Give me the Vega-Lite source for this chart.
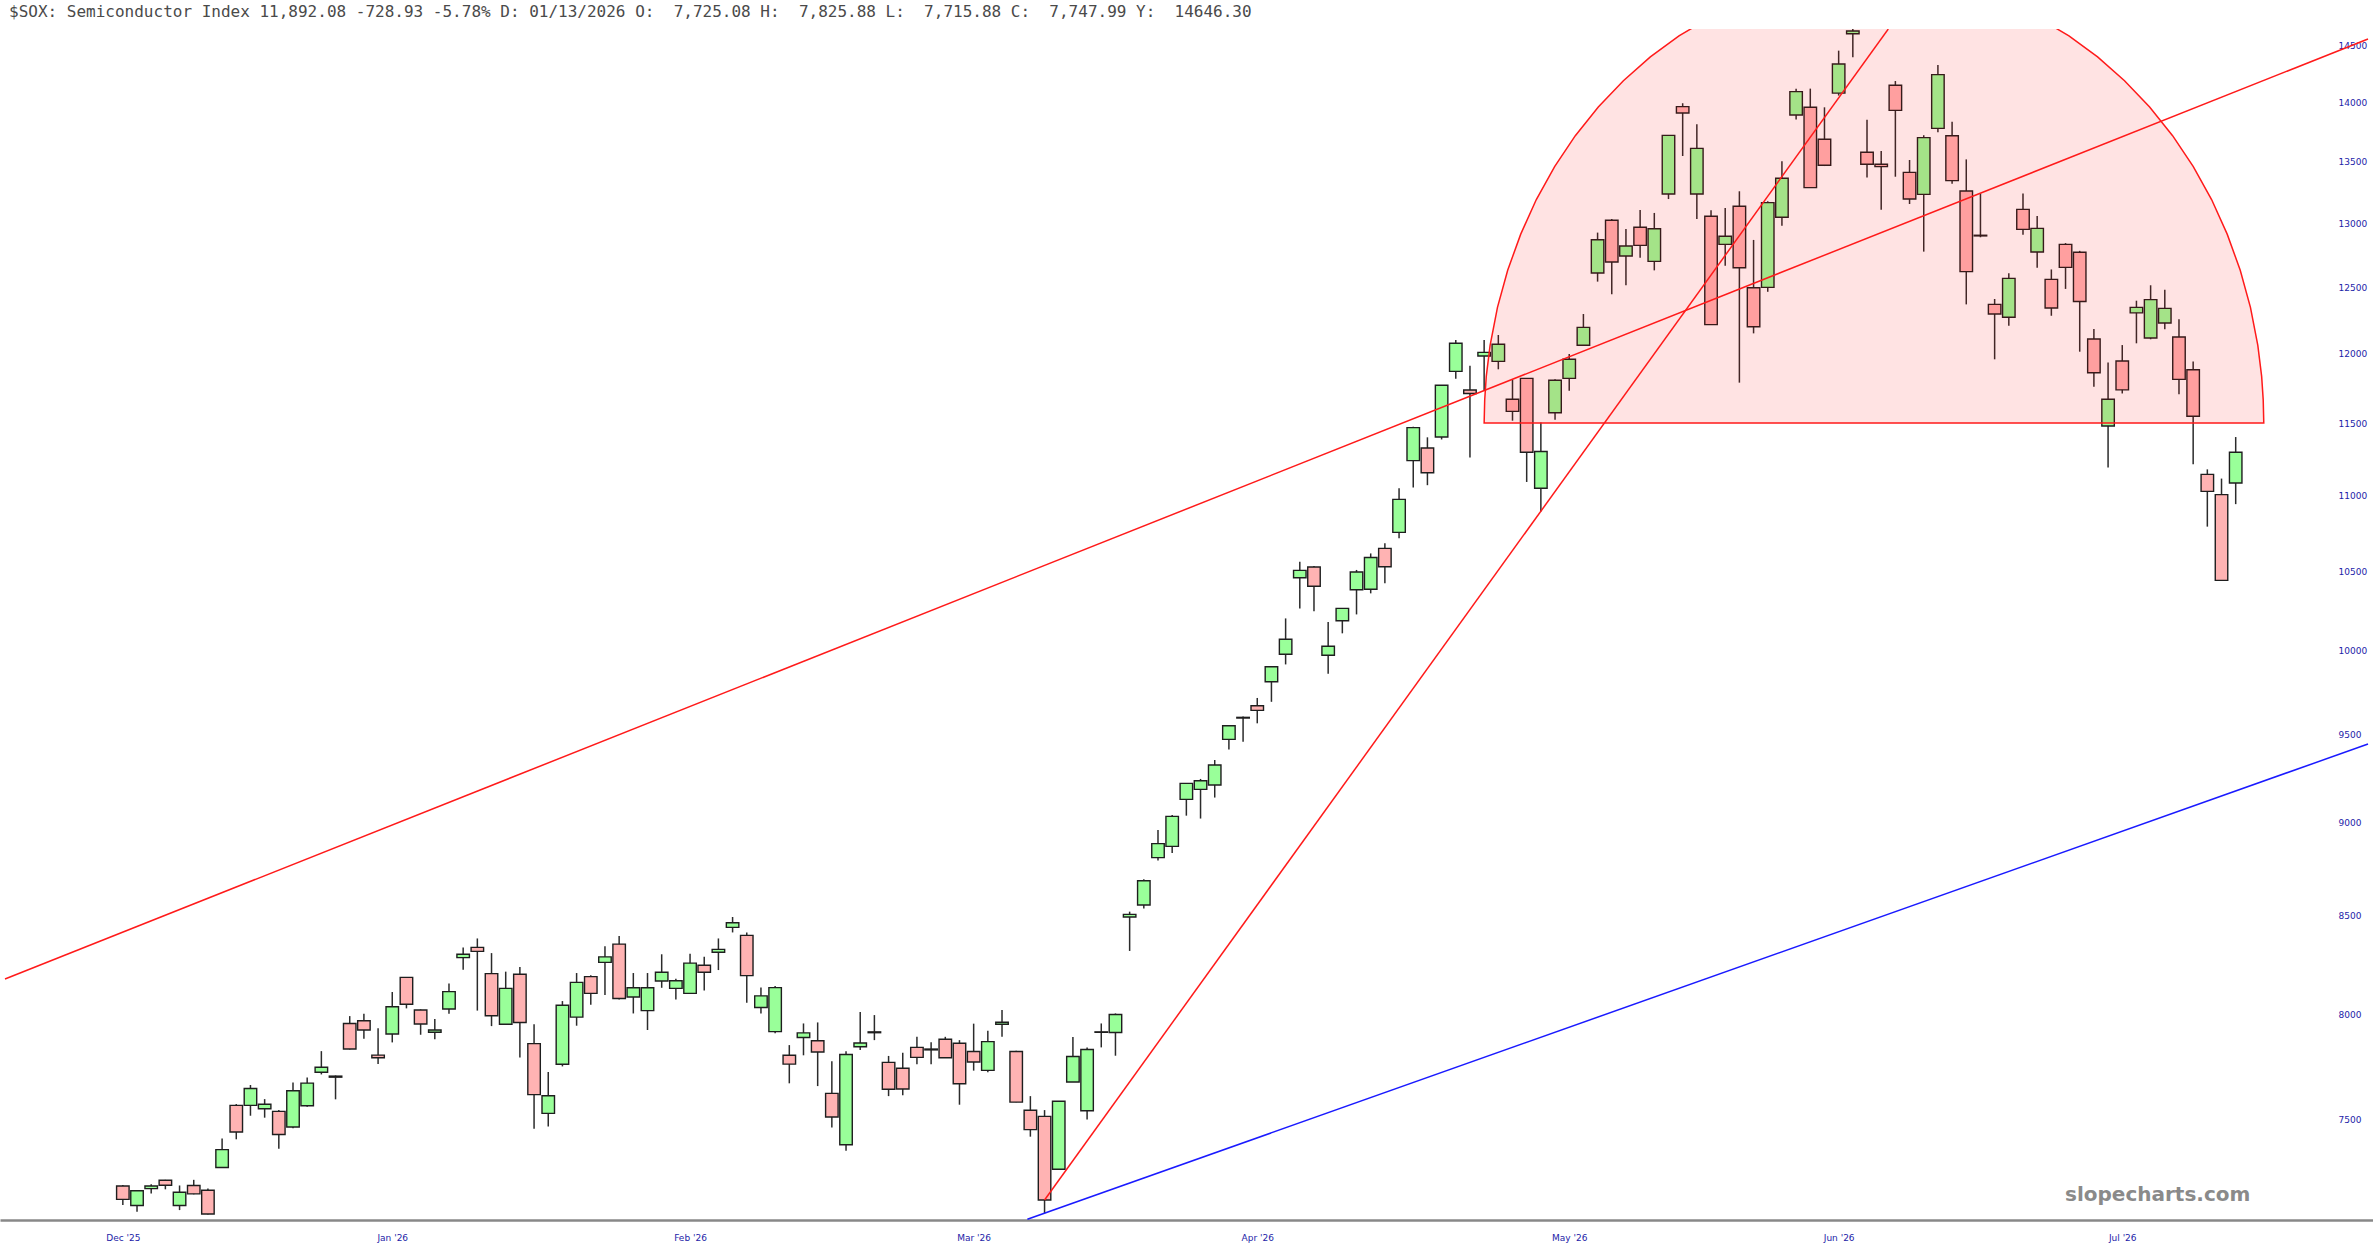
{
  "$schema": "https://vega.github.io/schema/vega-lite/v6.json",
  "width": 2373,
  "height": 1191,
  "autosize": {"type": "none"},
  "padding": {"top": 29, "left": 0, "right": 0, "bottom": 40},
  "background": "white",
  "config": {"view": {"stroke": null}},
  "title": {
    "text": "$SOX: Semiconductor Index 11,892.08 -728.93 -5.78% D: 01/13/2026 O:\u00a0 7,725.08 H:\u00a0 7,825.88 L:\u00a0 7,715.88 C:\u00a0 7,747.99 Y:\u00a0 14646.30",
    "anchor": "start",
    "frame": "group",
    "orient": "top",
    "offset": 12,
    "dx": 9,
    "dy": 16,
    "baseline": "alphabetic",
    "font": "DejaVu Sans Mono",
    "fontSize": 16,
    "fontWeight": "normal",
    "color": "#4a4a4a"
  },
  "datasets": {
    "candles": [
      {"i":1,"o":7201,"h":7205,"l":7117,"c":7142},
      {"i":2,"o":7115,"h":7182,"l":7088,"c":7180},
      {"i":3,"o":7189,"h":7208,"l":7168,"c":7201},
      {"i":4,"o":7226,"h":7228,"l":7186,"c":7204},
      {"i":5,"o":7115,"h":7203,"l":7095,"c":7173},
      {"i":6,"o":7203,"h":7228,"l":7164,"c":7166},
      {"i":7,"o":7182,"h":7190,"l":7076,"c":7078},
      {"i":8,"o":7283,"h":7414,"l":7281,"c":7363},
      {"i":9,"o":7566,"h":7572,"l":7410,"c":7443},
      {"i":10,"o":7566,"h":7661,"l":7518,"c":7645},
      {"i":11,"o":7550,"h":7595,"l":7509,"c":7571},
      {"i":12,"o":7538,"h":7544,"l":7367,"c":7432},
      {"i":13,"o":7466,"h":7673,"l":7460,"c":7634},
      {"i":14,"o":7564,"h":7697,"l":7560,"c":7670},
      {"i":15,"o":7721,"h":7822,"l":7711,"c":7745},
      {"i":16,"o":7703,"h":7706,"l":7594,"c":7698},
      {"i":17,"o":7956,"h":7992,"l":7830,"c":7832},
      {"i":18,"o":7969,"h":8004,"l":7882,"c":7924},
      {"i":19,"o":7803,"h":7932,"l":7760,"c":7790},
      {"i":20,"o":7905,"h":8111,"l":7864,"c":8038},
      {"i":21,"o":8184,"h":8186,"l":8030,"c":8050},
      {"i":22,"o":8022,"h":8025,"l":7901,"c":7953},
      {"i":23,"o":7913,"h":7978,"l":7879,"c":7924},
      {"i":24,"o":8027,"h":8154,"l":8004,"c":8113},
      {"i":25,"o":8284,"h":8336,"l":8223,"c":8301},
      {"i":26,"o":8336,"h":8382,"l":8019,"c":8316},
      {"i":27,"o":8203,"h":8307,"l":7943,"c":7994},
      {"i":28,"o":7952,"h":8213,"l":7952,"c":8129},
      {"i":29,"o":8200,"h":8236,"l":7792,"c":7961},
      {"i":30,"o":7858,"h":7952,"l":7458,"c":7616},
      {"i":31,"o":7529,"h":7722,"l":7469,"c":7611},
      {"i":32,"o":7759,"h":8066,"l":7749,"c":8045},
      {"i":33,"o":7987,"h":8206,"l":7945,"c":8159},
      {"i":34,"o":8188,"h":8195,"l":8048,"c":8104},
      {"i":35,"o":8260,"h":8342,"l":8096,"c":8288},
      {"i":36,"o":8353,"h":8394,"l":8074,"c":8079},
      {"i":37,"o":8086,"h":8206,"l":8005,"c":8132},
      {"i":38,"o":8019,"h":8206,"l":7924,"c":8132},
      {"i":39,"o":8166,"h":8301,"l":8132,"c":8210},
      {"i":40,"o":8129,"h":8177,"l":8074,"c":8167},
      {"i":41,"o":8104,"h":8304,"l":8101,"c":8256},
      {"i":42,"o":8245,"h":8288,"l":8119,"c":8210},
      {"i":43,"o":8311,"h":8382,"l":8221,"c":8326},
      {"i":44,"o":8439,"h":8493,"l":8413,"c":8463},
      {"i":45,"o":8398,"h":8413,"l":8058,"c":8193},
      {"i":46,"o":8034,"h":8133,"l":8005,"c":8092},
      {"i":47,"o":7916,"h":8141,"l":7908,"c":8133},
      {"i":48,"o":7802,"h":7851,"l":7669,"c":7760},
      {"i":49,"o":7888,"h":7956,"l":7802,"c":7910},
      {"i":50,"o":7872,"h":7961,"l":7656,"c":7818},
      {"i":51,"o":7622,"h":7773,"l":7464,"c":7512},
      {"i":52,"o":7385,"h":7822,"l":7358,"c":7806},
      {"i":53,"o":7843,"h":8012,"l":7827,"c":7861},
      {"i":54,"o":7915,"h":7997,"l":7875,"c":7911},
      {"i":55,"o":7768,"h":7799,"l":7609,"c":7641},
      {"i":56,"o":7740,"h":7814,"l":7613,"c":7642},
      {"i":57,"o":7840,"h":7891,"l":7759,"c":7792},
      {"i":58,"o":7828,"h":7865,"l":7759,"c":7832},
      {"i":59,"o":7879,"h":7891,"l":7790,"c":7790},
      {"i":60,"o":7860,"h":7875,"l":7569,"c":7667},
      {"i":61,"o":7820,"h":7955,"l":7729,"c":7770},
      {"i":62,"o":7730,"h":7920,"l":7721,"c":7868},
      {"i":63,"o":7952,"h":8022,"l":7891,"c":7962},
      {"i":64,"o":7820,"h":7824,"l":7581,"c":7581},
      {"i":65,"o":7543,"h":7609,"l":7422,"c":7454},
      {"i":66,"o":7515,"h":7544,"l":7081,"c":7139},
      {"i":67,"o":7275,"h":7585,"l":7275,"c":7585},
      {"i":68,"o":7675,"h":7890,"l":7675,"c":7796},
      {"i":69,"o":7541,"h":7840,"l":7501,"c":7830},
      {"i":70,"o":7915,"h":7956,"l":7840,"c":7913},
      {"i":71,"o":7912,"h":8005,"l":7800,"c":8000},
      {"i":72,"o":8493,"h":8521,"l":8318,"c":8507},
      {"i":73,"o":8556,"h":8692,"l":8537,"c":8684},
      {"i":74,"o":8808,"h":8959,"l":8793,"c":8884},
      {"i":75,"o":8869,"h":9042,"l":8833,"c":9034},
      {"i":76,"o":9129,"h":9219,"l":9038,"c":9219},
      {"i":77,"o":9185,"h":9244,"l":9022,"c":9234},
      {"i":78,"o":9210,"h":9352,"l":9139,"c":9323},
      {"i":79,"o":9471,"h":9551,"l":9413,"c":9551},
      {"i":80,"o":9600,"h":9605,"l":9457,"c":9596},
      {"i":81,"o":9669,"h":9715,"l":9565,"c":9641},
      {"i":82,"o":9812,"h":9903,"l":9692,"c":9903},
      {"i":83,"o":9979,"h":10201,"l":9917,"c":10071},
      {"i":84,"o":10459,"h":10562,"l":10264,"c":10506},
      {"i":85,"o":10528,"h":10535,"l":10246,"c":10404},
      {"i":86,"o":9973,"h":10178,"l":9861,"c":10028},
      {"i":87,"o":10186,"h":10264,"l":10108,"c":10264},
      {"i":88,"o":10382,"h":10509,"l":10226,"c":10496},
      {"i":89,"o":10385,"h":10616,"l":10359,"c":10590},
      {"i":90,"o":10649,"h":10682,"l":10423,"c":10530},
      {"i":91,"o":10754,"h":11049,"l":10715,"c":10974},
      {"i":92,"o":11238,"h":11475,"l":11055,"c":11468},
      {"i":93,"o":11326,"h":11400,"l":11070,"c":11155},
      {"i":94,"o":11402,"h":11770,"l":11385,"c":11770},
      {"i":95,"o":11871,"h":12102,"l":11818,"c":12077},
      {"i":96,"o":11736,"h":11912,"l":11259,"c":11711},
      {"i":97,"o":11983,"h":12102,"l":11736,"c":12010},
      {"i":98,"o":11944,"h":12139,"l":11886,"c":12070},
      {"i":99,"o":11669,"h":11808,"l":11517,"c":11583},
      {"i":100,"o":11820,"h":11820,"l":11092,"c":11296},
      {"i":101,"o":11049,"h":11504,"l":10892,"c":11301},
      {"i":102,"o":11573,"h":11813,"l":11523,"c":11806},
      {"i":103,"o":11820,"h":11998,"l":11731,"c":11959},
      {"i":104,"o":12063,"h":12296,"l":12063,"c":12196},
      {"i":105,"o":12610,"h":12926,"l":12543,"c":12870},
      {"i":106,"o":13024,"h":13035,"l":12446,"c":12695},
      {"i":107,"o":12742,"h":12955,"l":12515,"c":12820},
      {"i":108,"o":12968,"h":13107,"l":12729,"c":12825},
      {"i":109,"o":12700,"h":13083,"l":12630,"c":12957},
      {"i":110,"o":13236,"h":13721,"l":13195,"c":13721},
      {"i":111,"o":13965,"h":13994,"l":13548,"c":13911},
      {"i":112,"o":13236,"h":13814,"l":13035,"c":13612},
      {"i":113,"o":13056,"h":13104,"l":12216,"c":12216},
      {"i":114,"o":12833,"h":13123,"l":12666,"c":12897},
      {"i":115,"o":13137,"h":13258,"l":11789,"c":12650},
      {"i":116,"o":12496,"h":12868,"l":12151,"c":12200},
      {"i":117,"o":12499,"h":13177,"l":12465,"c":13166},
      {"i":118,"o":13048,"h":13504,"l":12981,"c":13364},
      {"i":119,"o":13893,"h":14120,"l":13856,"c":14094},
      {"i":120,"o":13959,"h":14120,"l":13288,"c":13288},
      {"i":121,"o":13688,"h":13959,"l":13465,"c":13471},
      {"i":122,"o":14081,"h":14453,"l":14060,"c":14335},
      {"i":123,"o":14603,"h":14646,"l":14394,"c":14628},
      {"i":124,"o":13579,"h":13854,"l":13370,"c":13480},
      {"i":125,"o":13480,"h":13590,"l":13108,"c":13460},
      {"i":126,"o":14149,"h":14186,"l":13377,"c":13933},
      {"i":127,"o":13413,"h":13515,"l":13155,"c":13195},
      {"i":128,"o":13233,"h":13722,"l":12776,"c":13702},
      {"i":129,"o":13780,"h":14326,"l":13747,"c":14242},
      {"i":130,"o":13717,"h":13837,"l":13320,"c":13345},
      {"i":131,"o":13260,"h":13520,"l":12369,"c":12620},
      {"i":132,"o":12905,"h":13240,"l":12889,"c":12900},
      {"i":133,"o":12369,"h":12410,"l":11959,"c":12296},
      {"i":134,"o":12272,"h":12608,"l":12207,"c":12568},
      {"i":135,"o":13112,"h":13240,"l":12910,"c":12952},
      {"i":136,"o":12773,"h":13058,"l":12650,"c":12960},
      {"i":137,"o":12560,"h":12637,"l":12283,"c":12342},
      {"i":138,"o":12833,"h":12843,"l":12487,"c":12653},
      {"i":139,"o":12771,"h":12782,"l":12015,"c":12391},
      {"i":140,"o":12109,"h":12184,"l":11760,"c":11861},
      {"i":141,"o":11480,"h":11935,"l":11190,"c":11669},
      {"i":142,"o":11947,"h":12064,"l":11711,"c":11737},
      {"i":143,"o":12305,"h":12397,"l":12077,"c":12346},
      {"i":144,"o":12117,"h":12515,"l":12107,"c":12405},
      {"i":145,"o":12229,"h":12481,"l":12182,"c":12339},
      {"i":146,"o":12124,"h":12256,"l":11705,"c":11813},
      {"i":147,"o":11883,"h":11943,"l":11213,"c":11548},
      {"i":148,"o":11144,"h":11178,"l":10792,"c":11028},
      {"i":149,"o":11006,"h":11115,"l":10442,"c":10442},
      {"i":150,"o":11085,"h":11402,"l":10942,"c":11296}
    ],
    "arc": [
      {"i":97.00,"v":11500},{"i":97.04,"v":11666},{"i":97.15,"v":11834},{"i":97.42,"v":12061},
      {"i":97.94,"v":12346},{"i":98.66,"v":12631},{"i":99.58,"v":12914},{"i":100.68,"v":13191},
      {"i":101.97,"v":13460},{"i":103.43,"v":13718},{"i":105.05,"v":13962},{"i":106.82,"v":14189},
      {"i":108.72,"v":14398},{"i":110.74,"v":14584},{"i":112.87,"v":14746},{"i":115.09,"v":14882},
      {"i":117.38,"v":14989},{"i":119.72,"v":15067},{"i":122.09,"v":15114},{"i":124.49,"v":15130},
      {"i":126.89,"v":15114},{"i":129.26,"v":15067},{"i":131.60,"v":14989},{"i":133.89,"v":14882},
      {"i":136.11,"v":14746},{"i":138.24,"v":14584},{"i":140.26,"v":14398},{"i":142.16,"v":14189},
      {"i":143.93,"v":13962},{"i":145.55,"v":13718},{"i":147.01,"v":13460},{"i":148.30,"v":13191},
      {"i":149.40,"v":12914},{"i":150.32,"v":12631},{"i":151.04,"v":12346},{"i":151.56,"v":12061},
      {"i":151.83,"v":11834},{"i":151.94,"v":11666},{"i":151.98,"v":11500}
    ],
    "trend": [
      {"g":"r1","i":-7.31,"v":8176},{"g":"r1","i":159.33,"v":14557},
      {"g":"r2","i":66,"v":7139},{"g":"r2","i":125.5,"v":14646},
      {"g":"b","i":64.79,"v":7055},{"g":"b","i":159.33,"v":9444}
    ],
    "mark": [
      {"i":144.5,"v":7161,"t":"slopecharts.com"}
    ]
  },
  "layer": [
    {
      "data": {"name": "candles"},
      "mark": {"type": "rule", "strokeWidth": 1.5, "color": "#2b2b2b", "clip": true},
      "encoding": {
        "x": {
          "field": "i", "type": "quantitative",
          "scale": {"domain": [-7.31, 159.33], "nice": false, "zero": false},
          "axis": {
            "title": null, "orient": "bottom", "grid": false, "ticks": false,
            "domain": true, "domainColor": "#888888", "domainWidth": 2.5,
            "values": [1, 20, 41, 61, 81, 103, 122, 142],
            "labelExpr": "datum.value == 1 ? \"Dec '25\" : datum.value == 20 ? \"Jan '26\" : datum.value == 41 ? \"Feb '26\" : datum.value == 61 ? \"Mar '26\" : datum.value == 81 ? \"Apr '26\" : datum.value == 103 ? \"May '26\" : datum.value == 122 ? \"Jun '26\" : \"Jul '26\"",
            "labelFont": "DejaVu Sans", "labelFontSize": 9, "labelColor": "#2323a8",
            "labelPadding": 13, "labelFlush": false, "labelOverlap": false
          }
        },
        "y": {
          "field": "l", "type": "quantitative",
          "scale": {"type": "log", "domain": [7052, 14646.3], "nice": false, "zero": false},
          "axis": {
            "title": null, "orient": "right", "offset": -35, "grid": false, "ticks": false,
            "domain": false, "labelPadding": 0, "labelAlign": "left",
            "values": [7500, 8000, 8500, 9000, 9500, 10000, 10500, 11000, 11500, 12000, 12500, 13000, 13500, 14000, 14500],
            "format": "d",
            "labelFont": "DejaVu Sans", "labelFontSize": 9, "labelColor": "#2323a8",
            "labelOverlap": false
          }
        },
        "y2": {"field": "h"}
      }
    },
    {
      "data": {"name": "candles"},
      "mark": {"type": "bar", "width": 12.5, "stroke": "#1e1e1e", "strokeWidth": 1.4, "clip": true},
      "encoding": {
        "x": {"field": "i", "type": "quantitative"},
        "y": {"field": "o", "type": "quantitative"},
        "y2": {"field": "c"},
        "fill": {
          "condition": {"test": "datum.c >= datum.o", "value": "#99ff99"},
          "value": "#ffb3b3"
        }
      }
    },
    {
      "data": {"name": "arc"},
      "mark": {"type": "area", "fill": "#ff0000", "fillOpacity": 0.11, "stroke": "#ff1a1a", "strokeWidth": 1.5, "strokeOpacity": 1, "clip": true},
      "encoding": {
        "x": {"field": "i", "type": "quantitative"},
        "y": {"field": "v", "type": "quantitative"},
        "y2": {"datum": 11500}
      }
    },
    {
      "data": {"name": "trend"},
      "mark": {"type": "line", "strokeWidth": 1.5, "clip": true},
      "encoding": {
        "x": {"field": "i", "type": "quantitative"},
        "y": {"field": "v", "type": "quantitative"},
        "detail": {"field": "g"},
        "color": {
          "field": "g", "type": "nominal",
          "scale": {"domain": ["r1", "r2", "b"], "range": ["#ff1a1a", "#ff1a1a", "#1a1aff"]},
          "legend": null
        }
      }
    },
    {
      "data": {"name": "mark"},
      "mark": {"type": "text", "font": "DejaVu Sans", "fontSize": 20, "fontWeight": "bold", "color": "#8a8a8a", "align": "center", "baseline": "middle"},
      "encoding": {
        "x": {"field": "i", "type": "quantitative"},
        "y": {"field": "v", "type": "quantitative"},
        "text": {"field": "t"}
      }
    }
  ]
}
